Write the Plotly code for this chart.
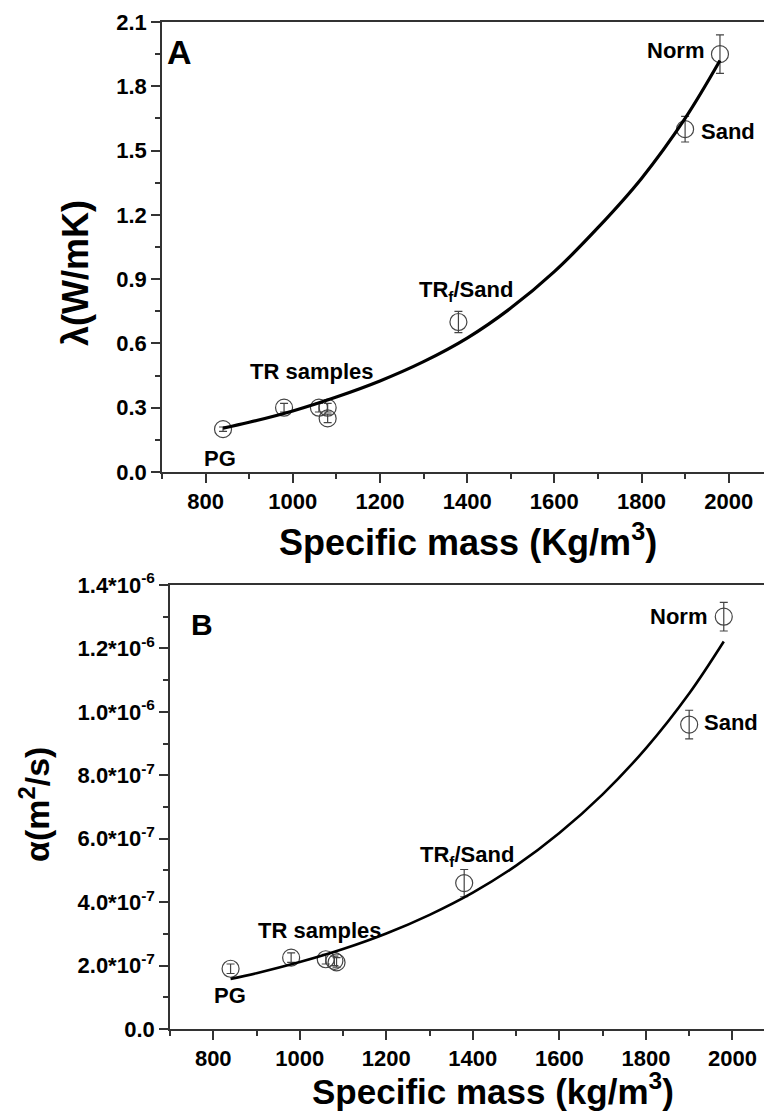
import plotly.graph_objects as go

W, H = 764, 1113

# ---------------- data ----------------
# Panel A: thermal conductivity
a_x = [840, 980, 1060, 1080, 1080, 1380, 1900, 1980]
a_y = [0.20, 0.30, 0.30, 0.30, 0.25, 0.70, 1.60, 1.95]
a_err = [0.01, 0.02, 0.02, 0.02, 0.02, 0.05, 0.06, 0.09]
a_fit_x = [840, 900, 1000, 1100, 1200, 1300, 1400, 1500, 1600, 1700, 1800, 1900, 1980]
a_fit_y = [0.205, 0.232, 0.285, 0.35, 0.425, 0.515, 0.625, 0.765, 0.935, 1.14, 1.37, 1.65, 1.92]

# Panel B: thermal diffusivity
b_x = [840, 980, 1060, 1080, 1085, 1380, 1900, 1980]
b_y = [1.9e-7, 2.25e-7, 2.2e-7, 2.15e-7, 2.1e-7, 4.6e-7, 9.6e-7, 1.3e-6]
b_err = [1.5e-8, 1.5e-8, 1.5e-8, 1.5e-8, 1.5e-8, 4.3e-8, 4.5e-8, 4.5e-8]
b_fit_x = [840, 900, 1000, 1100, 1200, 1300, 1400, 1500, 1600, 1700, 1800, 1900, 1980]
b_fit_y = [1.58e-7, 1.76e-7, 2.11e-7, 2.52e-7, 3.01e-7, 3.6e-7, 4.3e-7, 5.15e-7, 6.18e-7,
           7.4e-7, 8.85e-7, 1.058e-6, 1.222e-6]

a_yticks = [0.0, 0.3, 0.6, 0.9, 1.2, 1.5, 1.8, 2.1]
b_yticks = [0, 2e-7, 4e-7, 6e-7, 8e-7, 1.0e-6, 1.2e-6, 1.4e-6]
b_yticktext = ["0.0", "2.0*10<sup>-7</sup>", "4.0*10<sup>-7</sup>", "6.0*10<sup>-7</sup>",
               "8.0*10<sup>-7</sup>", "1.0*10<sup>-6</sup>", "1.2*10<sup>-6</sup>",
               "1.4*10<sup>-6</sup>"]
b_yminor = [1e-7, 3e-7, 5e-7, 7e-7, 9e-7, 1.1e-6, 1.3e-6]

# labels: (text, x, y)
a_labels = [("Norm", 1877, 1.969), ("Sand", 1999, 1.587),
            ("TR<sub>f</sub>/Sand", 1397, 0.845), ("TR samples", 1045, 0.467),
            ("PG", 833, 0.063)]
b_labels = [("Norm", 1876, 1.302e-6), ("Sand", 1997, 0.965e-6),
            ("TR<sub>f</sub>/Sand", 1387, 0.545e-6), ("TR samples", 1047, 0.309e-6),
            ("PG", 838, 0.106e-6)]

FONT = "Liberation Sans, Arial, sans-serif"
AX = "#333333"
MK = "#444444"

fig = go.Figure()

# markers with error bars
fig.add_trace(go.Scatter(
    x=a_x, y=a_y, mode="markers", xaxis="x", yaxis="y",
    marker=dict(symbol="circle-open", size=17, color=MK, line=dict(width=1.2, color=MK)),
    error_y=dict(type="data", array=a_err, visible=True, color=MK, thickness=1.2, width=4),
    showlegend=False))
fig.add_trace(go.Scatter(
    x=a_fit_x, y=a_fit_y, mode="lines", xaxis="x", yaxis="y",
    line=dict(color="black", width=3.2, shape="spline"), showlegend=False))

fig.add_trace(go.Scatter(
    x=b_x, y=b_y, mode="markers", xaxis="x2", yaxis="y2",
    marker=dict(symbol="circle-open", size=17, color=MK, line=dict(width=1.2, color=MK)),
    error_y=dict(type="data", array=b_err, visible=True, color=MK, thickness=1.2, width=4),
    showlegend=False))
fig.add_trace(go.Scatter(
    x=b_fit_x, y=b_fit_y, mode="lines", xaxis="x2", yaxis="y2",
    line=dict(color="black", width=2.6, shape="spline"), showlegend=False))

tickfont = dict(family=FONT, size=22, color="black", weight="bold")

common_x = dict(showline=True, linecolor=AX, linewidth=1.5, mirror=True,
                ticks="outside", ticklen=9, tickwidth=1.5, tickcolor=AX,
                tick0=0, dtick=200, showgrid=False, zeroline=False,
                tickfont=tickfont, automargin=False,
                minor=dict(ticks="outside", ticklen=5, tickwidth=1.5, tickcolor=AX,
                           dtick=100, tick0=0, showgrid=False))
common_y = dict(showline=True, linecolor=AX, linewidth=1.5, mirror=False,
                ticks="outside", ticklen=9, tickwidth=1.5, tickcolor=AX,
                showgrid=False, zeroline=False, tickfont=tickfont, automargin=False)

fig.update_layout(
    width=W, height=H, margin=dict(l=0, r=0, t=0, b=0, autoexpand=False),
    paper_bgcolor="white", plot_bgcolor="white",
    xaxis=dict(common_x, domain=[162 / W, 1], range=[700, 2081], anchor="y"),
    yaxis=dict(common_y, domain=[1 - 472 / H, 1 - 22 / H], range=[0, 2.1], anchor="x",
               tickmode="array", tickvals=a_yticks,
               ticktext=[f"{v:.1f}" for v in a_yticks],
               minor=dict(ticks="outside", ticklen=5, tickwidth=1.5, tickcolor=AX,
                          dtick=0.15, tick0=0, showgrid=False)),
    xaxis2=dict(common_x, domain=[170 / W, 1], range=[700, 2073], anchor="y2"),
    yaxis2=dict(common_y, domain=[1 - 1029 / H, 1 - 585 / H], range=[0, 1.4e-6], anchor="x2",
                tickmode="array", tickvals=b_yticks, ticktext=b_yticktext,
                minor=dict(ticks="outside", ticklen=5, tickwidth=1.5, tickcolor=AX,
                           tickmode="array", tickvals=b_yminor, showgrid=False)),
)

lab_font = dict(family=FONT, size=22, color="black", weight="bold")
for t, x, y in a_labels:
    fig.add_annotation(x=x, y=y, xref="x", yref="y", text=t, showarrow=False,
                       font=lab_font, xanchor="center", yanchor="middle")
for t, x, y in b_labels:
    fig.add_annotation(x=x, y=y, xref="x2", yref="y2", text=t, showarrow=False,
                       font=lab_font, xanchor="center", yanchor="middle")

# panel letters
fig.add_annotation(x=740, y=1.962, xref="x", yref="y", text="A", showarrow=False,
                   xanchor="center", yanchor="middle",
                   font=dict(family=FONT, size=34, color="black", weight="bold"))
fig.add_annotation(x=774, y=1.275e-6, xref="x2", yref="y2", text="B", showarrow=False,
                   xanchor="center", yanchor="middle",
                   font=dict(family=FONT, size=30, color="black", weight="bold"))

# axis titles
fig.add_annotation(x=468 / W, y=1 - 540 / H, xref="paper", yref="paper",
                   xanchor="center", yanchor="middle",
                   text="Specific mass (Kg/m<sup>3</sup>)", showarrow=False,
                   font=dict(family=FONT, size=36, color="black", weight="bold"))
fig.add_annotation(x=493 / W, y=0, xref="paper", yref="paper",
                   xanchor="center", yanchor="bottom",
                   text="Specific mass (kg/m<sup>3</sup>)", showarrow=False,
                   font=dict(family=FONT, size=35, color="black", weight="bold"))
fig.add_annotation(x=76 / W, y=1 - 273 / H, xref="paper", yref="paper",
                   xanchor="center", yanchor="middle",
                   text="λ(W/mK)", showarrow=False, textangle=-90,
                   font=dict(family=FONT, size=36, color="black", weight="bold"))
fig.add_annotation(x=34 / W, y=1 - 805 / H, xref="paper", yref="paper",
                   xanchor="center", yanchor="middle",
                   text="α(m<sup>2</sup>/s)", showarrow=False, textangle=-90,
                   font=dict(family=FONT, size=34, color="black", weight="bold"))

fig.write_html("out.html", config={"displayModeBar": False},
               post_script="document.body.style.margin='0px';"
                           "document.body.style.overflow='hidden';")
